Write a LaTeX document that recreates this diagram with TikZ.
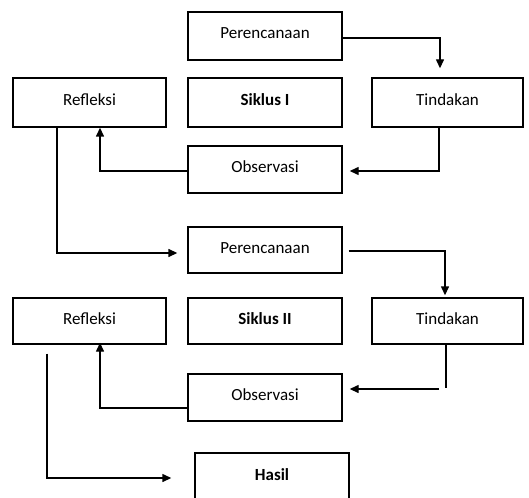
\documentclass[tikz,border=0pt]{standalone}
\usepackage{fontspec}
\setmainfont{Carlito}
\usetikzlibrary{arrows.meta}
\begin{document}
\begin{tikzpicture}[x=1pt,y=-1pt,
  box/.style={draw,line width=1.4pt,rectangle,minimum width=154pt,minimum height=48pt,inner sep=0pt,text height=12pt,text depth=6pt,font=\fontsize{17}{20}\selectfont},
  conn/.style={line width=1.4pt,-{Triangle[length=9pt,width=8pt]}},
  plain/.style={line width=1.4pt}]
\clip (0,0) rectangle (529,497);
\useasboundingbox (0,0) rectangle (529,497);
\node[box] (p1) at (265,36) {Perencanaan};
\node[box,minimum width=153pt,minimum height=49pt] (r1) at (89.5,102.5) {Refleksi};
\node[box,minimum height=49pt] (s1) at (265,102.5) {\bfseries Siklus I};
\node[box,minimum width=151pt,minimum height=49pt] (t1) at (447.5,102.5) {Tindakan};
\node[box,minimum height=47pt] (o1) at (265,169.5) {Observasi};
\node[box,minimum height=46pt] (p2) at (265,250) {Perencanaan};
\node[box,minimum width=153pt,minimum height=46pt] (r2) at (89.5,321) {Refleksi};
\node[box,minimum height=46pt] (s2) at (265,321) {\bfseries Siklus II};
\node[box,minimum width=151pt,minimum height=46pt] (t2) at (447.5,321) {Tindakan};
\node[box,minimum height=47pt] (o2) at (265,397.5) {Observasi};
\node[box,minimum height=48pt] (h) at (272,477) {\bfseries Hasil};
% cycle I
\draw[conn,shorten >=9pt] ([yshift=-2pt]p1.east) -| ([xshift=-7.5pt]t1.north);
\draw[conn,shorten >=7pt] ([xshift=-8.5pt]t1.south) |- ([yshift=-1.5pt]o1.east);
\draw[conn] ([yshift=-1.5pt]o1.west) -| ([xshift=10.5pt]r1.south);
\draw[conn,shorten >=10pt] ([xshift=-32.5pt]r1.south) |- ([yshift=-3pt]p2.west);
% cycle II
\draw[conn,shorten <=6pt,shorten >=2pt] ([yshift=-1pt]p2.east) -| ([xshift=-2.5pt]t2.north);
\coordinate (c1) at (446,388);
\coordinate (c2) at (439,389);
\draw[plain] ([xshift=-1.5pt]t2.south) -- (c1);
\draw[conn,shorten >=7pt] (c2) -- (c2 -| o2.east);
\draw[conn,shorten >=-2pt] ([yshift=-10.5pt]o2.west) -| ([xshift=10.5pt]r2.south);
\draw[conn,shorten <=9pt,shorten >=23pt] ([xshift=-42.5pt]r2.south) |- ([yshift=-1pt]h.west);
\end{tikzpicture}
\end{document}
